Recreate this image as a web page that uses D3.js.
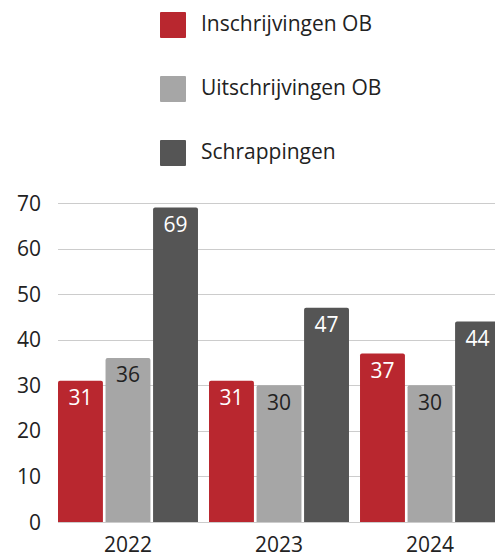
<!DOCTYPE html>
<html>
<head>
<meta charset="utf-8">
<script src="https://cdn.jsdelivr.net/npm/d3@7"></script>
<style>
	body { margin: 0; background: #fff; }
	svg { display: block; font-family: 'Open Sans', sans-serif; }
</style>
</head>
<body>
<div id="chart_div"></div>
<script>
var years = ['2022', '2023', '2024'];
var series_names = ['Inschrijvingen OB', 'Uitschrijvingen OB', 'Schrappingen'];
var inschrijvingen = [31, 31, 37];
var uitschrijvingen = [36, 30, 30];
var schrappingen = [69, 47, 44];
var y_ticks = [0, 10, 20, 30, 40, 50, 60, 70];

var series_colours = ['#b9272f', '#a6a6a6', '#555555'];
var label_colours = ['#ffffff', '#222222', '#ffffff'];

function draw_chart() {
	var width = 495;
	var height = 554;
	var font_size = 21;
	var svg = d3
		.select('#chart_div')
		.append('svg')
		.attr('width', width)
		.attr('height', height);

	var all_values = [inschrijvingen, uitschrijvingen, schrappingen];

	var x_scale = d3
		.scaleBand()
		.domain(years)
		.range([58, 500])
		.paddingInner(0.073)
		.paddingOuter(0);
	var x_inner = d3
		.scaleBand()
		.domain(series_names)
		.range([0, x_scale.bandwidth()])
		.paddingInner(0.055);
	var y_scale = d3.scaleLinear().domain([0, 70]).range([522, 203]);

	// gridlines
	svg.append('g')
		.selectAll('line')
		.data(y_ticks)
		.enter()
		.append('line')
		.attr('x1', 58)
		.attr('x2', width)
		.attr('y1', (d) => Math.round(y_scale(d)) + 0.5)
		.attr('y2', (d) => Math.round(y_scale(d)) + 0.5)
		.attr('stroke', '#cccccc')
		.attr('stroke-width', 1);

	// y labels
	svg.append('g')
		.selectAll('text')
		.data(y_ticks)
		.enter()
		.append('text')
		.attr('x', 41)
		.attr('y', (d) => y_scale(d) + 7.5)
		.attr('text-anchor', 'end')
		.attr('font-size', font_size)
		.attr('fill', '#222')
		.text((d) => d);

	// x labels
	svg.append('g')
		.selectAll('text')
		.data(years)
		.enter()
		.append('text')
		.attr('x', (d) => x_scale(d) + x_scale.bandwidth() / 2)
		.attr('y', 552)
		.attr('text-anchor', 'middle')
		.attr('font-size', font_size)
		.attr('fill', '#222')
		.text((d) => d);

	var bar_data = [];
	for (var s in series_names) {
		for (var y in years) {
			bar_data.push({
				year: years[y],
				series: series_names[s],
				value: all_values[s][y],
				fill: series_colours[s],
				label_fill: label_colours[s],
			});
		}
	}

	var bars = svg.append('g').attr('class', 'bars');
	bars.selectAll('path')
		.data(bar_data)
		.enter()
		.append('path')
		.attr('fill', (d) => d.fill)
		.attr('d', function (d) {
			var x0 = x_scale(d.year) + x_inner(d.series);
			var w = x_inner.bandwidth();
			var y0 = y_scale(d.value);
			var y1 = y_scale(0);
			var r = 2;
			return (
				'M' + x0 + ',' + y1 +
				'V' + (y0 + r) +
				'Q' + x0 + ',' + y0 + ' ' + (x0 + r) + ',' + y0 +
				'H' + (x0 + w - r) +
				'Q' + (x0 + w) + ',' + y0 + ' ' + (x0 + w) + ',' + (y0 + r) +
				'V' + y1 + 'Z'
			);
		});

	bars.selectAll('text')
		.data(bar_data)
		.enter()
		.append('text')
		.attr('x', (d) => x_scale(d.year) + x_inner(d.series) + x_inner.bandwidth() / 2)
		.attr('y', (d) => y_scale(d.value) + 24.5)
		.attr('text-anchor', 'middle')
		.attr('font-size', font_size)
		.attr('fill', (d) => d.label_fill)
		.text((d) => d.value);

	// legend
	var legend = svg
		.append('g')
		.selectAll('g')
		.data(series_names)
		.enter()
		.append('g')
		.attr('transform', (d, i) => 'translate(160,' + (12 + i * 64) + ')');
	legend
		.append('rect')
		.attr('width', 26)
		.attr('height', 26)
		.attr('rx', 1)
		.attr('fill', (d, i) => series_colours[i]);
	legend
		.append('text')
		.attr('x', 41)
		.attr('y', 19)
		.attr('font-size', font_size)
		.attr('fill', '#222')
		.text((d) => d);
}

draw_chart();
</script>
</body>
</html>
